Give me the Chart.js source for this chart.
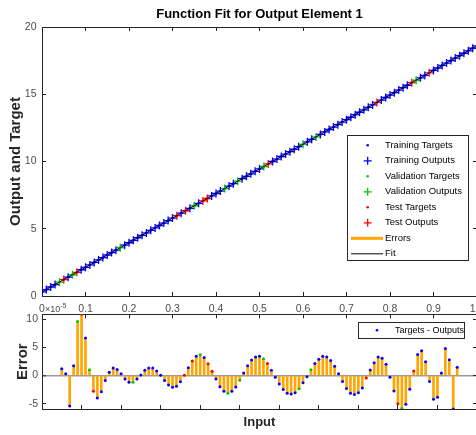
<!DOCTYPE html>
<html>
<head>
<meta charset="utf-8">
<title>Function Fit for Output Element 1</title>
<script src="https://cdn.jsdelivr.net/npm/chart.js@4.4.1/dist/chart.umd.min.js"></script>
<style>
    html, body { margin: 0; padding: 0; background: #ffffff; overflow: hidden; }
    #wrap { position: relative; width: 476px; height: 435px; overflow: hidden; }
    #fitChart { position: absolute; left: 0; top: 0; width: 519px; height: 320px; }
    #errChart { position: absolute; left: 0; top: 300px; width: 519px; height: 135px; }
</style>
</head>
<body>
<div id="wrap">
    <canvas id="fitChart" width="519" height="320"></canvas>
    <canvas id="errChart" width="519" height="135"></canvas>
</div>
<script>
// sample inputs
const inputs = [
    0, 0.01, 0.02, 0.03, 0.04, 0.05, 0.06, 0.07, 0.08, 0.09,
    0.1, 0.11, 0.12, 0.13, 0.14, 0.15, 0.16, 0.17, 0.18, 0.19,
    0.2, 0.21, 0.22, 0.23, 0.24, 0.25, 0.26, 0.27, 0.28, 0.29,
    0.3, 0.31, 0.32, 0.33, 0.34, 0.35, 0.36, 0.37, 0.38, 0.39,
    0.4, 0.41, 0.42, 0.43, 0.44, 0.45, 0.46, 0.47, 0.48, 0.49,
    0.5, 0.51, 0.52, 0.53, 0.54, 0.55, 0.56, 0.57, 0.58, 0.59,
    0.6, 0.61, 0.62, 0.63, 0.64, 0.65, 0.66, 0.67, 0.68, 0.69,
    0.7, 0.71, 0.72, 0.73, 0.74, 0.75, 0.76, 0.77, 0.78, 0.79,
    0.8, 0.81, 0.82, 0.83, 0.84, 0.85, 0.86, 0.87, 0.88, 0.89,
    0.9, 0.91, 0.92, 0.93, 0.94, 0.95, 0.96, 0.97, 0.98, 0.99,
    1
];

// target values
const targets = [
    0.30, 0.48, 0.67, 0.85, 1.03, 1.22, 1.40, 1.58, 1.76, 1.95,
    2.13, 2.31, 2.50, 2.68, 2.86, 3.05, 3.23, 3.41, 3.59, 3.78,
    3.96, 4.14, 4.33, 4.51, 4.69, 4.88, 5.06, 5.24, 5.42, 5.61,
    5.79, 5.97, 6.16, 6.34, 6.52, 6.71, 6.89, 7.07, 7.25, 7.44,
    7.62, 7.80, 7.99, 8.17, 8.35, 8.54, 8.72, 8.90, 9.08, 9.27,
    9.45, 9.63, 9.82, 10.00, 10.18, 10.37, 10.55, 10.73, 10.91, 11.10,
    11.28, 11.46, 11.65, 11.83, 12.01, 12.20, 12.38, 12.56, 12.74, 12.93,
    13.11, 13.29, 13.48, 13.66, 13.84, 14.03, 14.21, 14.39, 14.57, 14.76,
    14.94, 15.12, 15.31, 15.49, 15.67, 15.86, 16.04, 16.22, 16.40, 16.59,
    16.77, 16.95, 17.14, 17.32, 17.50, 17.69, 17.87, 18.05, 18.23, 18.42,
    18.60
];

// targets - outputs, in units of 1e-5
const errors = [
    1.2, 0.3, -5.4, 1.75, 9.6, 10.9, 6.7, 1.05, -2.8, -4.0,
    -2.9, -0.9, 0.6, 1.35, 1.1, 0.3, -0.6, -1.2, -1.2, -0.6,
    0.1, 0.95, 1.35, 1.35, 0.8, 0.05, -0.9, -1.7, -2.1, -1.9,
    -1.1, 0.05, 1.4, 2.6, 3.45, 3.7, 3.2, 2.1, 0.75, -0.6,
    -2.0, -2.8, -3.15, -2.8, -2.05, -0.85, 0.45, 1.75, 2.75, 3.3,
    3.45, 3.0, 2.15, 0.95, -0.3, -1.5, -2.5, -3.15, -3.3, -3.05,
    -2.35, -1.3, -0.2, 1.05, 2.15, 2.9, 3.45, 3.3, 2.7, 1.65,
    0.3, -1.05, -2.3, -3.15, -3.35, -3.05, -2.2, -0.45, 1.0, 2.3,
    3.3, 3.1, 2.0, -0.3, -2.75, -5.0, -5.85, -5.1, -2.45, 0.8,
    3.75, 4.4, 2.45, -1.05, -4.2, -3.85, 0.45, 4.8, 2.8, -5.95,
    1.5
];
const ERR_SCALE = 1e-5;

// sample indices held out for validation and test
const valIdx = [4, 7, 18, 35, 42, 45, 51, 60, 63, 86];
const testIdx = [5, 8, 31, 33, 37, 38, 52, 77, 85, 89];

// tick values
const fitXTicks = [0, 0.1, 0.2, 0.3, 0.4, 0.5, 0.6, 0.7, 0.8, 0.9, 1];
const fitYTicks = [0, 5, 10, 15, 20];
const errYTicks = [-5, 0, 5, 10];

const FONT = "'Liberation Sans', Arial, Helvetica, sans-serif";
const AXIS = '#262626';
const TICK_TEXT = '#4d4d4d';
const BLUE = '#0000ff';
const GREEN = '#00c800';
const RED = '#ff0000';
const ORANGE = '#ffa500';

Chart.defaults.font.family = FONT;
Chart.defaults.animation = false;

const outputs = targets.map((t, i) => t - errors[i] * ERR_SCALE);
const allIdx = inputs.map((_, i) => i);
const trainIdx = allIdx.filter(i => !valIdx.includes(i) && !testIdx.includes(i));
const setColor = allIdx.map(i => valIdx.includes(i) ? GREEN : (testIdx.includes(i) ? RED : BLUE));

function points(idx, values) {
    return idx.map(i => ({ x: inputs[i], y: values[i] }));
}

// MATLAB style box axis: inward tick marks, fixed thickness
function boxAxis(position, size, min, max, tickValues, showLabels, padding) {
    return {
        type: 'linear',
        position: position,
        min: min,
        max: max,
        afterBuildTicks: (scale) => {
            scale.ticks = tickValues.map(v => ({ value: v }));
        },
        ticks: {
            display: showLabels,
            color: TICK_TEXT,
            font: { size: 10.5 },
            padding: padding || 0,
            maxRotation: 0,
            autoSkip: false
        },
        grid: { drawOnChartArea: false, tickLength: -4, tickColor: AXIS, tickWidth: 1 },
        border: { color: AXIS, width: 1 },
        afterFit: (scale) => {
            if (scale.isHorizontal()) scale.height = size;
            else scale.width = size;
        }
    };
}

// boxed legend drawn on the canvas
function boxLegend(id, box) {
    return {
        id: id,
        afterDraw(chart) {
            const ctx = chart.ctx;
            ctx.save();
            ctx.fillStyle = '#ffffff';
            ctx.fillRect(box.left, box.top, box.width, box.height);
            ctx.strokeStyle = AXIS;
            ctx.lineWidth = 1;
            ctx.strokeRect(box.left + 0.5, box.top + 0.5, box.width, box.height);
            ctx.font = box.font;
            ctx.textBaseline = 'middle';
            ctx.textAlign = 'left';
            box.items.forEach((item, k) => {
                const y = box.top + box.firstRow + k * box.rowHeight;
                const mx = box.left + box.markerX;
                ctx.fillStyle = item.color;
                ctx.strokeStyle = item.color;
                if (item.kind === 'dot') {
                    ctx.beginPath();
                    ctx.arc(mx, y, 1.3, 0, 2 * Math.PI);
                    ctx.fill();
                } else if (item.kind === 'cross') {
                    ctx.lineWidth = 1.3;
                    ctx.beginPath();
                    ctx.moveTo(mx - 4, y); ctx.lineTo(mx + 4, y);
                    ctx.moveTo(mx, y - 4); ctx.lineTo(mx, y + 4);
                    ctx.stroke();
                } else {
                    ctx.lineWidth = item.width;
                    ctx.beginPath();
                    ctx.moveTo(box.left + 4, y);
                    ctx.lineTo(box.left + box.textX - 2, y);
                    ctx.stroke();
                }
                ctx.fillStyle = '#000000';
                ctx.fillText(item.text, box.left + box.textX, y);
            });
            ctx.restore();
        }
    };
}

// "x10^-5" multiplier above the error axis
const exponentLabel = {
    id: 'exponentLabel',
    afterDraw(chart) {
        const { ctx, chartArea } = chart;
        const x = chartArea.left + 3;
        const y = chartArea.top - 2;
        ctx.save();
        ctx.fillStyle = TICK_TEXT;
        ctx.textBaseline = 'alphabetic';
        ctx.font = '9px ' + FONT;
        ctx.fillText('\u00d710', x, y);
        const w = ctx.measureText('\u00d710').width;
        ctx.font = '7px ' + FONT;
        ctx.fillText('-5', x + w, y - 4);
        ctx.restore();
    }
};

const fitLegend = boxLegend('fitLegend', {
    left: 347, top: 135, width: 121, height: 125,
    firstRow: 10.3, rowHeight: 15.5, markerX: 20.7, textX: 38,
    font: '9.5px ' + FONT,
    items: [
        { text: 'Training Targets', kind: 'dot', color: BLUE },
        { text: 'Training Outputs', kind: 'cross', color: BLUE },
        { text: 'Validation Targets', kind: 'dot', color: GREEN },
        { text: 'Validation Outputs', kind: 'cross', color: GREEN },
        { text: 'Test Targets', kind: 'dot', color: RED },
        { text: 'Test Outputs', kind: 'cross', color: RED },
        { text: 'Errors', kind: 'line', color: ORANGE, width: 3 },
        { text: 'Fit', kind: 'line', color: '#000000', width: 1 }
    ]
});

const errLegend = boxLegend('errLegend', {
    left: 358, top: 22, width: 106, height: 16,
    firstRow: 8.3, rowHeight: 15, markerX: 19, textX: 37,
    font: '9px ' + FONT,
    items: [
        { text: 'Targets - Outputs', kind: 'dot', color: BLUE }
    ]
});

function targetSet(label, idx, color) {
    return {
        label: label,
        data: points(idx, targets),
        pointStyle: 'circle',
        pointRadius: 1.4,
        backgroundColor: color,
        borderWidth: 0,
        order: 2
    };
}

function outputSet(label, idx, color) {
    return {
        label: label,
        data: points(idx, outputs),
        pointStyle: 'cross',
        pointRadius: 4,
        borderColor: color,
        borderWidth: 1.3,
        order: 1
    };
}

// upper plot: outputs, targets and fit
const yLeft = boxAxis('left', 42, 0, 20, fitYTicks, true, 9.5);
yLeft.title = {
    display: true,
    text: 'Output and Target',
    color: AXIS,
    font: { size: 15, weight: 'bold' },
    padding: { top: 7, bottom: 0 }
};

new Chart(document.getElementById('fitChart'), {
    type: 'scatter',
    data: {
        datasets: [
            {
                type: 'line',
                label: 'Fit',
                data: points(allIdx, outputs),
                showLine: true,
                borderColor: '#000000',
                borderWidth: 1,
                pointRadius: 0,
                order: 0
            },
            outputSet('Training Outputs', trainIdx, BLUE),
            targetSet('Training Targets', trainIdx, BLUE),
            outputSet('Validation Outputs', valIdx, GREEN),
            targetSet('Validation Targets', valIdx, GREEN),
            outputSet('Test Outputs', testIdx, RED),
            targetSet('Test Targets', testIdx, RED)
        ]
    },
    options: {
        responsive: false,
        events: [],
        layout: { padding: 0 },
        plugins: {
            legend: { display: false },
            tooltip: { enabled: false },
            title: {
                display: true,
                text: 'Function Fit for Output Element 1',
                color: '#000000',
                font: { size: 13, weight: 'bold' },
                padding: { top: 7, bottom: 4.4 }
            }
        },
        scales: {
            x: boxAxis('bottom', 24, 0, 1, fitXTicks, true, 11),
            x2: boxAxis('top', 0, 0, 1, fitXTicks, false),
            y: yLeft,
            y2: boxAxis('right', 42, 0, 20, fitYTicks, false)
        }
    },
    plugins: [fitLegend]
});

// lower plot: error stems, axis limits tight on the data
const errMin = Math.min(...errors);
const errMax = Math.max(...errors);

const xErr = boxAxis('bottom', 26, 0, 1, fitXTicks, false);
xErr.title = {
    display: true,
    text: 'Input',
    color: AXIS,
    font: { size: 13, weight: 'bold' },
    padding: { top: 0, bottom: 5.2 }
};

const yErr = boxAxis('left', 42, errMin, errMax, errYTicks, true, 8);
yErr.grid = {
    drawOnChartArea: true,
    tickLength: -4,
    tickColor: AXIS,
    tickWidth: 1,
    color: (c) => (c.tick && c.tick.value === 0) ? '#9a9a9a' : 'rgba(0,0,0,0)',
    lineWidth: (c) => (c.tick && c.tick.value === 0) ? 1.5 : 1
};
yErr.title = {
    display: true,
    text: 'Error',
    color: AXIS,
    font: { size: 15, weight: 'bold' },
    padding: { top: 13.5, bottom: 0 }
};

new Chart(document.getElementById('errChart'), {
    type: 'scatter',
    data: {
        datasets: [
            {
                label: 'Targets - Outputs',
                data: points(allIdx, errors),
                pointStyle: 'circle',
                pointRadius: 1.5,
                backgroundColor: setColor,
                borderWidth: 0,
                order: 0
            },
            {
                type: 'bar',
                label: 'Errors',
                data: points(allIdx, errors),
                backgroundColor: ORANGE,
                barThickness: 2,
                borderWidth: 0,
                order: 1
            }
        ]
    },
    options: {
        responsive: false,
        events: [],
        layout: { padding: { top: 14, left: 0, right: 0, bottom: 0 } },
        plugins: {
            legend: { display: false },
            tooltip: { enabled: false },
            title: { display: false }
        },
        scales: {
            x: xErr,
            x2: boxAxis('top', 0, 0, 1, fitXTicks, false),
            y: yErr,
            y2: boxAxis('right', 42, errMin, errMax, errYTicks, false)
        }
    },
    plugins: [errLegend, exponentLabel]
});
</script>
</body>
</html>
